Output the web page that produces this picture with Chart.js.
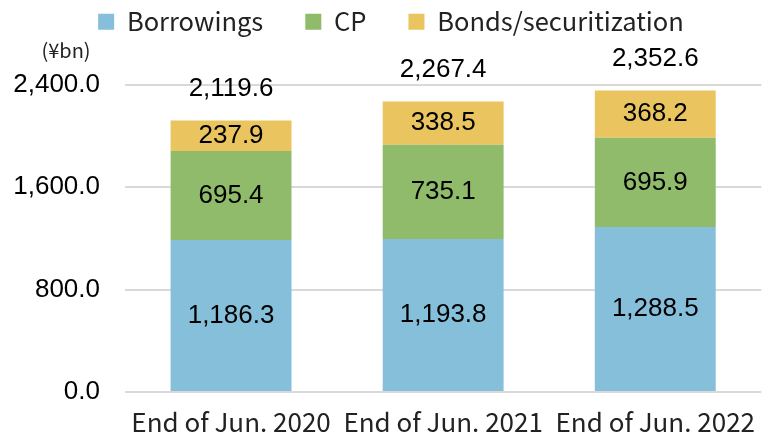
<!DOCTYPE html>
<html>
<head>
<meta charset="utf-8">
<script src="https://cdn.jsdelivr.net/npm/chart.js@4"></script>
<style>
  html, body { margin: 0; padding: 0; background: #fff; }
  #wrap { width: 762px; height: 437px; }
</style>
</head>
<body>
<div id="wrap"><canvas id="chart"></canvas></div>
<script>
// Data
const categories = ['End of Jun. 2020', 'End of Jun. 2021', 'End of Jun. 2022'];
const borrowings = [1186.3, 1193.8, 1288.5];
const cp = [695.4, 735.1, 695.9];
const bonds = [237.9, 338.5, 368.2];
const totals = [2119.6, 2267.4, 2352.6];
const yTicks = [0, 800, 1600, 2400];

const numFont = '"Liberation Sans", Arial, sans-serif';
const jpFont = '"Noto Sans CJK JP", "Noto Sans", sans-serif';

const fmt = v => v.toLocaleString('en-US', { minimumFractionDigits: 1, maximumFractionDigits: 1 });

// labels inside segments + totals above bars + unit text
const labelsPlugin = {
  id: 'labels',
  afterDatasetsDraw(chart) {
    const ctx = chart.ctx;
    ctx.save();
    ctx.fillStyle = '#000';
    ctx.font = '26px ' + numFont;
    ctx.textAlign = 'center';
    ctx.textBaseline = 'middle';
    chart.data.datasets.forEach((ds, di) => {
      const meta = chart.getDatasetMeta(di);
      meta.data.forEach((bar, i) => {
        ctx.fillText(fmt(ds.data[i]), bar.x, (bar.y + bar.base) / 2);
      });
    });
    const y = chart.scales.y;
    const top = chart.getDatasetMeta(chart.data.datasets.length - 1);
    totals.forEach((t, i) => {
      ctx.fillText(fmt(t), top.data[i].x, y.getPixelForValue(t) - 32);
    });
    ctx.font = '20px ' + jpFont;
    ctx.fillStyle = '#222';
    ctx.fillText('(¥bn)', 66, 50);
    ctx.restore();
  }
};

// extra room under legend, legend nudged right
const legendSpace = {
  id: 'legendSpace',
  beforeInit(chart) {
    const origFit = chart.legend.fit;
    chart.legend.fit = function () {
      origFit.bind(chart.legend)();
      this.height += 40;
    };
  },
  afterLayout(chart) {
    chart.legend.left += 18;
  }
};

new Chart(document.getElementById('chart'), {
  type: 'bar',
  data: {
    labels: categories,
    datasets: [
      { label: 'Borrowings', data: borrowings, backgroundColor: '#86BFDA' },
      { label: 'CP', data: cp, backgroundColor: '#8FBB6A' },
      { label: 'Bonds/securitization', data: bonds, backgroundColor: '#E9C45F' }
    ]
  },
  options: {
    responsive: true,
    maintainAspectRatio: false,
    animation: false,
    layout: { autoPadding: false, padding: { left: 0, right: -2, top: -33, bottom: 0 } },
    datasets: { bar: { categoryPercentage: 1, barPercentage: 0.57, borderWidth: 0 } },
    plugins: {
      legend: {
        position: 'top',
        labels: {
          boxWidth: 16, boxHeight: 16, padding: 42,
          color: '#222',
          font: { family: jpFont, size: 25.5 }
        }
      },
      tooltip: { enabled: false }
    },
    scales: {
      x: {
        stacked: true,
        afterFit(scale) { scale.height = 45; },
        grid: { display: false },
        border: { display: false },
        ticks: { color: '#222', font: { family: jpFont, size: 26 }, padding: 7, maxRotation: 0 }
      },
      y: {
        stacked: true,
        min: 0, max: 2400,
        afterFit(scale) { scale.width = 125; },
        afterBuildTicks(scale) { scale.ticks = yTicks.map(v => ({ value: v })); },
        grid: { color: '#d9d9d9', lineWidth: 2, drawTicks: false },
        border: { display: false },
        ticks: {
          color: '#000', padding: 25,
          font: { family: numFont, size: 26 },
          callback: v => fmt(v)
        }
      }
    }
  },
  plugins: [labelsPlugin, legendSpace]
});
</script>
</body>
</html>
